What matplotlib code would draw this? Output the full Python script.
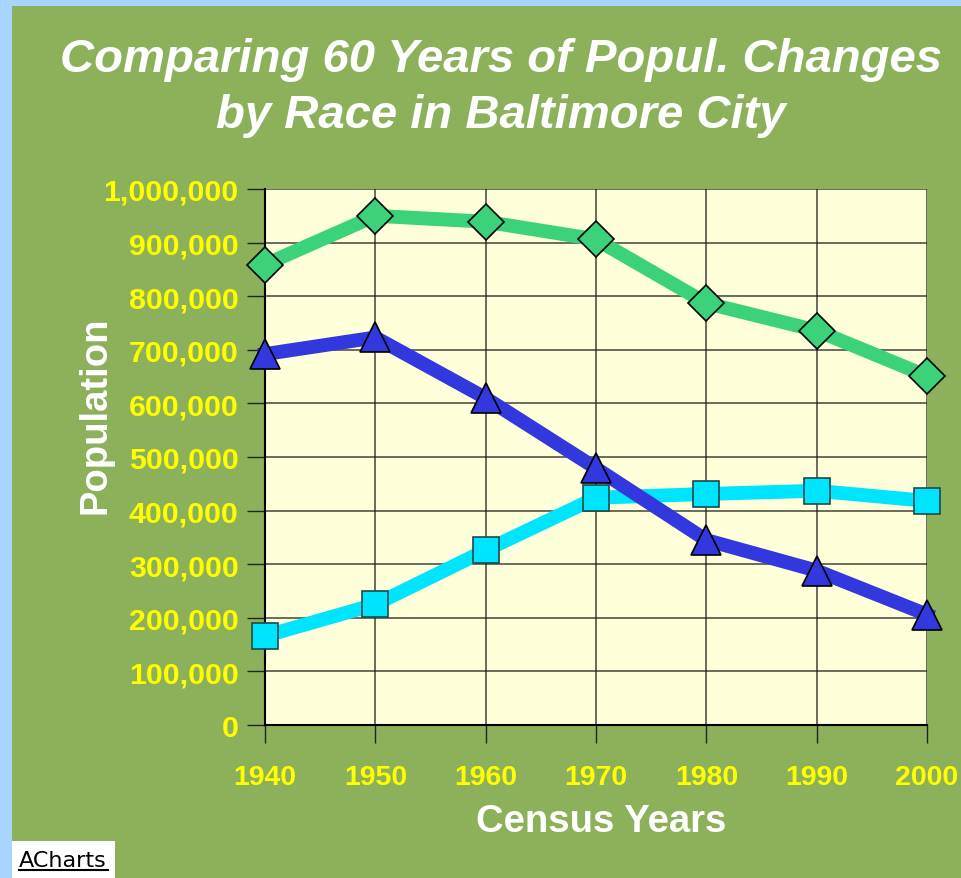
import matplotlib.pyplot as plt
from matplotlib.lines import Line2D
from matplotlib.patches import Rectangle
from matplotlib.ticker import FuncFormatter

# census years and population by race
years = [1940, 1950, 1960, 1970, 1980, 1990, 2000]
total = [859000, 950000, 939000, 906000, 787000, 736000, 651000]
white = [692000, 723000, 610000, 479000, 345000, 288000, 206000]
black = [166000, 225000, 326000, 424000, 431000, 437000, 418000]

bg_green = '#8DB05A'
plot_bg = '#FFFFD9'
border_blue = '#A8D4FF'

plt.rcParams['font.family'] = ['Liberation Sans', 'DejaVu Sans']

fig = plt.figure(figsize=(9.62, 8.79), dpi=100)
fig.patch.set_facecolor(bg_green)

# light blue frame on the left and top
fig.patches.append(Rectangle((0, 0), 12 / 962, 1, transform=fig.transFigure,
                             facecolor=border_blue, edgecolor='none', zorder=-5))
fig.patches.append(Rectangle((0, 1 - 7 / 879), 1, 7 / 879, transform=fig.transFigure,
                             facecolor=border_blue, edgecolor='none', zorder=-5))

ax = fig.add_axes([265 / 962, 1 - 726 / 879, (927 - 265) / 962, (726 - 190) / 879])
ax.set_facecolor(plot_bg)

ax.plot(years, total, color='#3CD27A', lw=10, marker='D', ms=18,
        mfc='#3CD27A', mec='black', mew=1.2, zorder=3, clip_on=False)
ax.plot(years, white, color='#3238DD', lw=10, marker='^', ms=22,
        mfc='#3238DD', mec='black', mew=1.2, zorder=4, clip_on=False)
ax.plot(years, black, color='#00E5FF', lw=10, marker='s', ms=19,
        mfc='#00E5FF', mec='#1a4a4a', mew=1.2, zorder=3, clip_on=False)

ax.set_xlim(1940, 2000)
ax.set_ylim(0, 1000000)
ax.set_xticks(years)
ax.set_yticks(range(0, 1000001, 100000))
ax.yaxis.set_major_formatter(FuncFormatter(lambda v, p: f'{int(v):,}'))
ax.grid(True, color='#222222', lw=1.1, alpha=0.85)
ax.set_axisbelow(True)

for s in ['top', 'right']:
    ax.spines[s].set_visible(False)
for s in ['left', 'bottom']:
    ax.spines[s].set_color('black')
    ax.spines[s].set_linewidth(1.5)

ax.tick_params(axis='both', length=13, width=1, color='#222222',
               labelcolor='#FFFF00')
ax.tick_params(axis='x', pad=15, labelsize=20.5)
ax.tick_params(axis='y', pad=6, labelsize=21.8)
for lab in ax.get_xticklabels() + ax.get_yticklabels():
    lab.set_fontweight('bold')

fig.text(501 / 962, 1 - 72 / 879, 'Comparing 60 Years of Popul. Changes',
         ha='center', va='baseline', color='white', fontsize=34,
         fontweight='bold', fontstyle='italic')
fig.text(501 / 962, 1 - 128 / 879, 'by Race in Baltimore City',
         ha='center', va='baseline', color='white', fontsize=34,
         fontweight='bold', fontstyle='italic')

fig.text(601 / 962, 1 - 832 / 879, 'Census Years', ha='center', va='baseline',
         color='white', fontsize=27.5, fontweight='bold')
fig.text(114 / 962, 1 - 415 / 879, 'Population', ha='right', va='center',
         rotation=90, color='white', fontsize=27.5, fontweight='bold')

# ACharts badge
fig.patches.append(Rectangle((12 / 962, 0), 103 / 962, 37 / 879, transform=fig.transFigure,
                             facecolor='white', edgecolor='none', zorder=1))
fig.text(19 / 962, 1 - 867 / 879, 'ACharts', ha='left', va='baseline',
         color='black', fontsize=16, family='DejaVu Sans')
fig.lines.append(Line2D([19 / 962, 108 / 962], [1 - 871 / 879, 1 - 871 / 879],
                        transform=fig.transFigure, color='black', lw=1.5))

fig.savefig('out.png', dpi=100, facecolor=fig.get_facecolor())
